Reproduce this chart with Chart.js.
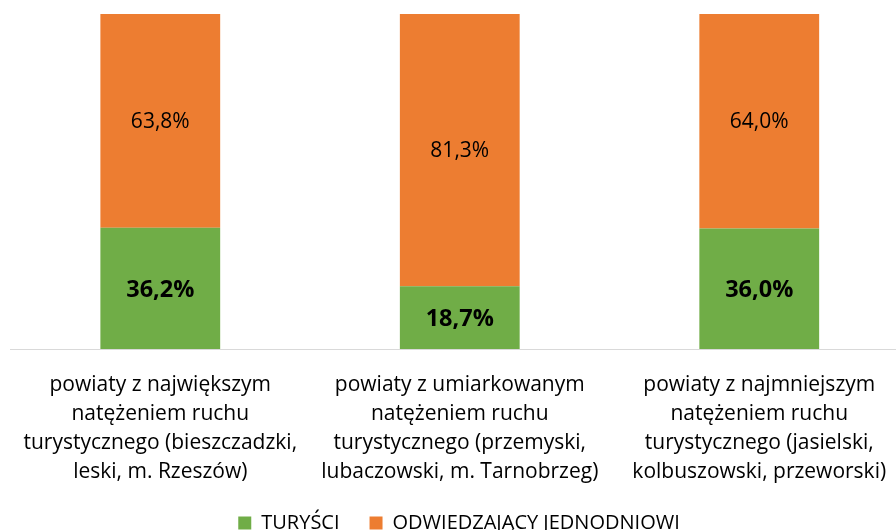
<!DOCTYPE html>
<html><head><meta charset="utf-8">
<script src="https://cdn.jsdelivr.net/npm/chart.js@4"></script>
<style>html,body{margin:0;padding:0;overflow:hidden;background:#fff}#wrap{width:918px;height:546px;position:relative}</style>
</head><body><div id="wrap"><canvas id="c"></canvas></div>
<script>
const categories = [
  ["powiaty z największym","natężeniem ruchu","turystycznego (bieszczadzki,","leski, m. Rzeszów)"],
  ["powiaty z umiarkowanym","natężeniem ruchu","turystycznego (przemyski,","lubaczowski, m. Tarnobrzeg)"],
  ["powiaty z najmniejszym","natężeniem ruchu","turystycznego (jasielski,","kolbuszowski, przeworski)"]
];
const turysci = [36.2, 18.7, 36.0];
const jednodniowi = [63.8, 81.3, 64.0];
const seriesNames = ["TURYŚCI", "ODWIEDZAJĄCY JEDNODNIOWI"];
const FONT = "'Open Sans', Lato, sans-serif";

const labelPlugin = {
  id: 'vals',
  afterDatasetsDraw(chart) {
    const ctx = chart.ctx;
    chart.data.datasets.forEach((ds, di) => {
      const meta = chart.getDatasetMeta(di);
      meta.data.forEach((bar, i) => {
        const v = ds.data[i];
        const txt = v.toFixed(1).replace('.', ',') + '%';
        const y = (bar.y + bar.base) / 2;
        ctx.save();
        ctx.fillStyle = '#000';
        ctx.textAlign = 'center';
        ctx.textBaseline = 'middle';
        ctx.font = di === 0 ? "bold 23.5px " + FONT : "21px " + FONT;
        ctx.fillText(txt, bar.x, y + (di === 0 ? 2 : 1));
        ctx.restore();
      });
    });
  }
};

new Chart(document.getElementById('c'), {
  type: 'bar',
  data: {
    labels: categories,
    datasets: [
      { label: seriesNames[0], data: turysci, backgroundColor: '#70AD47', categoryPercentage: 1, barPercentage: 0.4 },
      { label: seriesNames[1], data: jednodniowi, backgroundColor: '#ED7D31', categoryPercentage: 1, barPercentage: 0.4 }
    ]
  },
  options: {
    responsive: true,
    maintainAspectRatio: false,
    animation: false,
    layout: { padding: { left: 9, right: 9, top: 14, bottom: 3 } },
    scales: {
      x: {
        stacked: true,
        grid: { display: false, drawTicks: false },
        border: { display: true, color: '#d9d9d9', width: 1 },
        ticks: { color: '#000', font: { family: FONT, size: 21, lineHeight: '29px' }, padding: 22, maxRotation: 0, autoSkip: false },
        afterFit(scale) { scale.height = 134; }
      },
      y: { stacked: true, min: 0, max: 100, display: false }
    },
    plugins: {
      legend: {
        position: 'bottom',
        labels: { color: '#000', font: { family: FONT, size: 20 }, boxWidth: 13, boxHeight: 13, padding: 30 }
      },
      tooltip: { enabled: false }
    }
  },
  plugins: [labelPlugin]
});
</script></body></html>
